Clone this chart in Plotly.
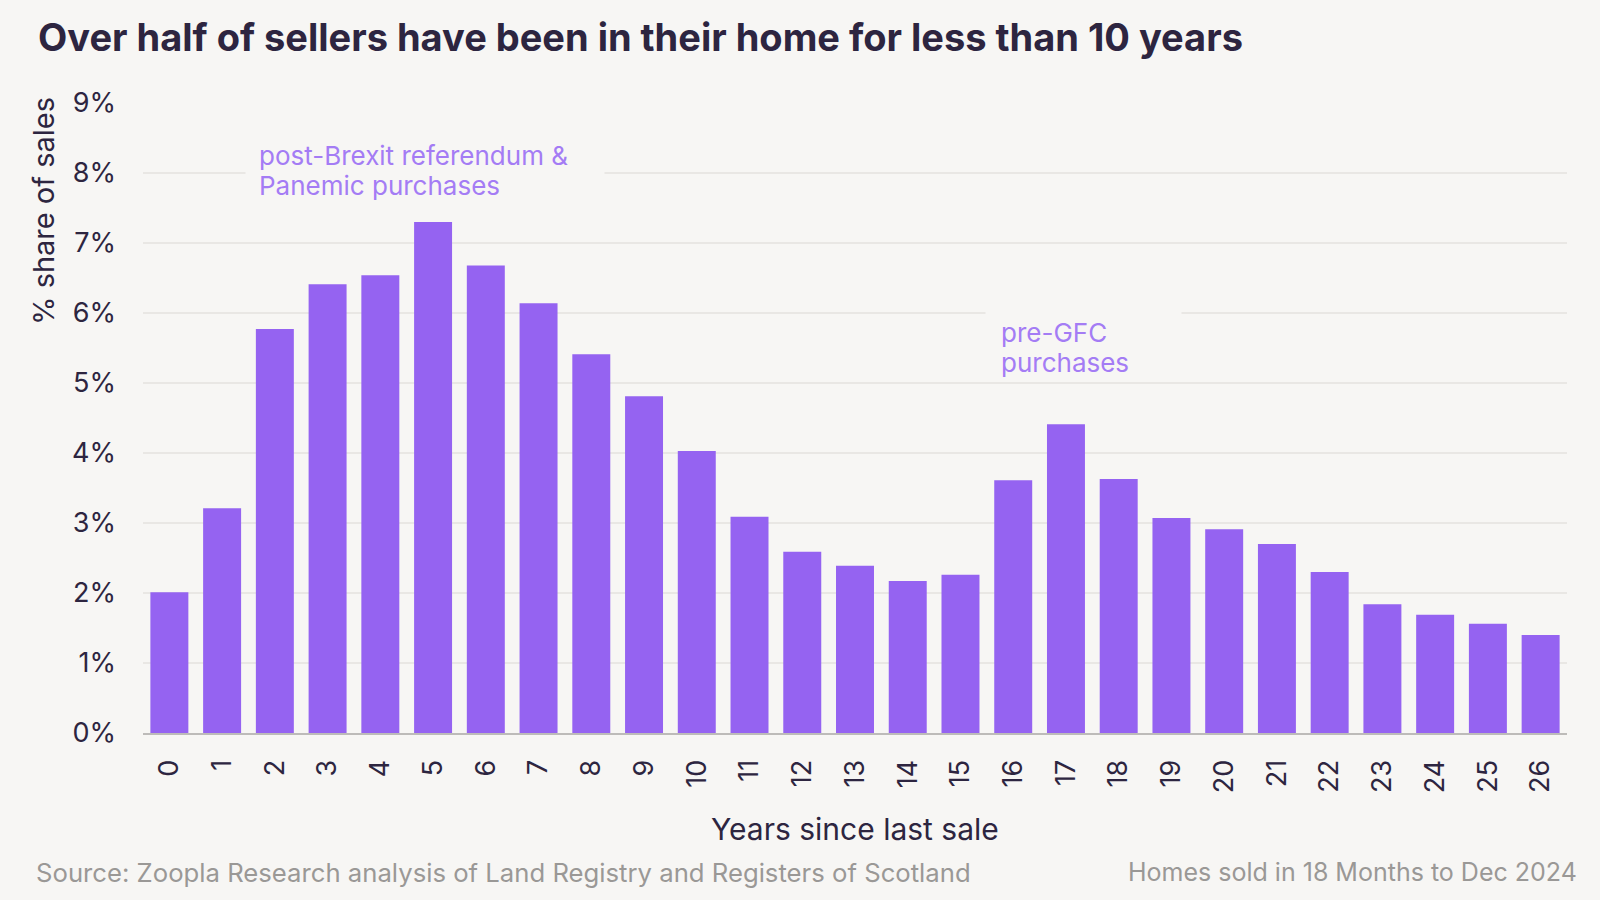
import plotly.graph_objects as go

years = [str(i) for i in range(27)]
share = [2.01, 3.21, 5.77, 6.41, 6.54, 7.30, 6.68, 6.14, 5.41, 4.81, 4.03,
         3.09, 2.59, 2.39, 2.17, 2.26, 3.61, 4.41, 3.63, 3.07, 2.91, 2.70,
         2.30, 1.84, 1.69, 1.56, 1.40]
y_ticks = list(range(10))
y_tick_labels = [f"{v}%" for v in y_ticks]

title_text = "Over half of sellers have been in their home for less than 10 years"
x_title = "Years since last sale"
y_title = "% share of sales"
source_text = "Source: Zoopla Research analysis of Land Registry and Registers of Scotland"
note_text = "Homes sold in 18 Months to Dec 2024"
ann1_lines = ["post-Brexit referendum &", "Panemic purchases"]
ann2_lines = ["pre-GFC", "purchases"]

BG = "#F7F6F4"
BAR = "#9563F1"
DARK = "#2D2540"
ANN = "#A47CF4"
GREY = "#9A9896"
FONT = "Inter"

W, H = 1600, 900
L, R, T, B = 143, 33, 103, 167
PW, PH = W - L - R, H - T - B


def px(x):
    return (x - L) / PW


def py(y):
    return (H - B - y) / PH


fig = go.Figure(go.Bar(x=years, y=share, marker_color=BAR, marker_line_width=0,
                       hoverinfo="skip"))

fig.update_layout(
    width=W, height=H,
    margin=dict(l=L, r=R, t=T, b=B),
    paper_bgcolor=BG, plot_bgcolor=BG,
    bargap=0.28,
    showlegend=False,
    font=dict(family=FONT, color=DARK),
    title=dict(text=f"<b>{title_text}</b>", x=38 / W, xanchor="left",
               y=1 - 38 / H, yanchor="middle",
               font=dict(size=38, color=DARK, family=FONT)),
)

fig.update_xaxes(
    type="category",
    tickangle=-90,
    tickfont=dict(size=27, color=DARK),
    ticks="", ticklabelstandoff=14,
    showline=True, linecolor="#BDBBB9", linewidth=2,
    showgrid=False,
)
fig.update_yaxes(
    range=[0, 9],
    tickvals=y_ticks, ticktext=y_tick_labels,
    tickfont=dict(size=27, color=DARK),
    ticks="", ticklabelstandoff=26,
    showgrid=True, gridcolor="#E9E7E4", gridwidth=2,
    zeroline=False, showline=False,
)

# axis titles
fig.add_annotation(
    text=y_title, xref="paper", yref="paper", x=px(43), y=py(95),
    xanchor="center", yanchor="top", textangle=-90, showarrow=False,
    font=dict(size=29, color=DARK, family=FONT),
)
fig.add_annotation(
    text=x_title, xref="paper", yref="paper", x=px(855), y=py(829),
    xanchor="center", yanchor="middle", showarrow=False,
    font=dict(size=30, color=DARK, family=FONT),
)

# background panels behind the callouts (hide the gridlines)
fig.add_annotation(
    text=" ", xref="paper", yref="paper", x=px(245), y=py(170),
    xanchor="left", yanchor="middle", showarrow=False,
    bgcolor=BG, borderpad=0, width=358, height=70,
)
fig.add_annotation(
    text=" ", xref="paper", yref="paper", x=px(985), y=py(344),
    xanchor="left", yanchor="middle", showarrow=False,
    bgcolor=BG, borderpad=0, width=195, height=66,
)

# callout text
ann_font = dict(size=26, color=ANN, family=FONT)
for line, yy in zip(ann1_lines, [155, 185]):
    fig.add_annotation(
        text=line, xref="paper", yref="paper", x=px(257), y=py(yy),
        xanchor="left", yanchor="middle", align="left", showarrow=False,
        font=ann_font,
    )
for line, yy in zip(ann2_lines, [332, 362]):
    fig.add_annotation(
        text=line, xref="paper", yref="paper", x=px(999), y=py(yy),
        xanchor="left", yanchor="middle", align="left", showarrow=False,
        font=ann_font,
    )

# footer
fig.add_annotation(
    text=source_text, xref="paper", yref="paper",
    x=px(34), y=py(872), xanchor="left", yanchor="middle",
    showarrow=False, font=dict(size=25.7, color=GREY, family=FONT),
)
fig.add_annotation(
    text=note_text, xref="paper", yref="paper",
    x=px(1579), y=py(872), xanchor="right", yanchor="middle",
    showarrow=False, font=dict(size=25, color=GREY, family=FONT),
)

fig.write_html("out.html", config={"displayModeBar": False},
               post_script="document.body.style.margin='0px';")
